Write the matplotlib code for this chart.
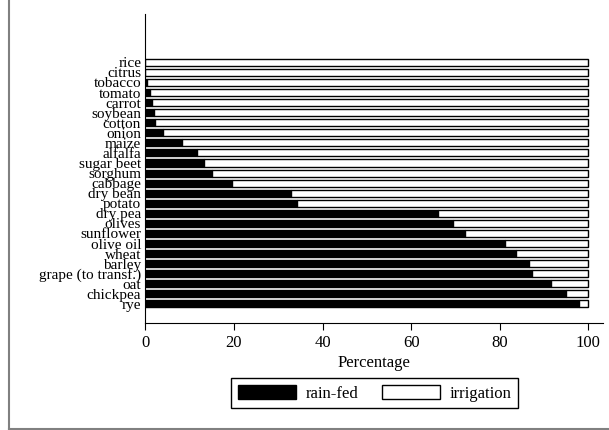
import matplotlib.pyplot as plt
import numpy as np
from matplotlib.lines import Line2D

plt.rcParams['font.family'] = ['Liberation Serif', 'DejaVu Serif']

crops = ["rice", "citrus", "tobacco", "tomato", "carrot", "soybean", "cotton",
         "onion", "maize", "alfalfa", "sugar beet", "sorghum", "cabbage",
         "dry bean", "potato", "dry pea", "olives", "sunflower", "olive oil",
         "wheat", "barley", "grape (to transf.)", "oat", "chickpea", "rye"]
rainfed = [0.0, 0.0, 0.3, 1.1, 1.4, 1.9, 2.1, 4.1, 8.3, 11.6, 13.2, 15.1, 19.5,
           33.0, 34.2, 66.0, 69.4, 72.2, 81.3, 83.7, 86.7, 87.3, 91.6, 95.0, 98.0]
irrigation = [100 - v for v in rainfed]

fig = plt.figure(figsize=(6.09, 4.30), dpi=100)
ax = fig.add_axes([0.2386, 0.2488, 0.7514, 0.7186])

y = np.arange(len(crops))[::-1]
ax.barh(y, rainfed, height=0.7, color="black", edgecolor="black", linewidth=1,
        label="rain-fed")
ax.barh(y, irrigation, left=rainfed, height=0.7, color="white",
        edgecolor="black", linewidth=1, label="irrigation")

ax.set_yticks(y)
ax.set_yticklabels(crops, fontsize=11)
ax.tick_params(axis="y", length=0, pad=3)
ax.tick_params(axis="x", labelsize=12, direction="out", length=5)
ax.set_xticks([0, 20, 40, 60, 80, 100])
ax.set_xlim(0, 103.3)
ax.set_ylim(-1.9, 28.8)
ax.set_xlabel("Percentage", fontsize=12, labelpad=3)
for s in ["top", "right"]:
    ax.spines[s].set_visible(False)

leg = fig.legend(loc="center", bbox_to_anchor=(0.615, 0.085), ncol=2,
                 fontsize=12, handlelength=3.5, handleheight=0.9,
                 handletextpad=0.55, columnspacing=1.4, fancybox=False,
                 edgecolor="black", framealpha=1)
leg.get_frame().set_linewidth(1)

fig.add_artist(Line2D([0.014, 0.014], [0.003, 1.0], color="gray", lw=1.5))
fig.add_artist(Line2D([0.014, 1.0], [0.003, 0.003], color="gray", lw=1.5))

fig.savefig("out.png", dpi=100)
